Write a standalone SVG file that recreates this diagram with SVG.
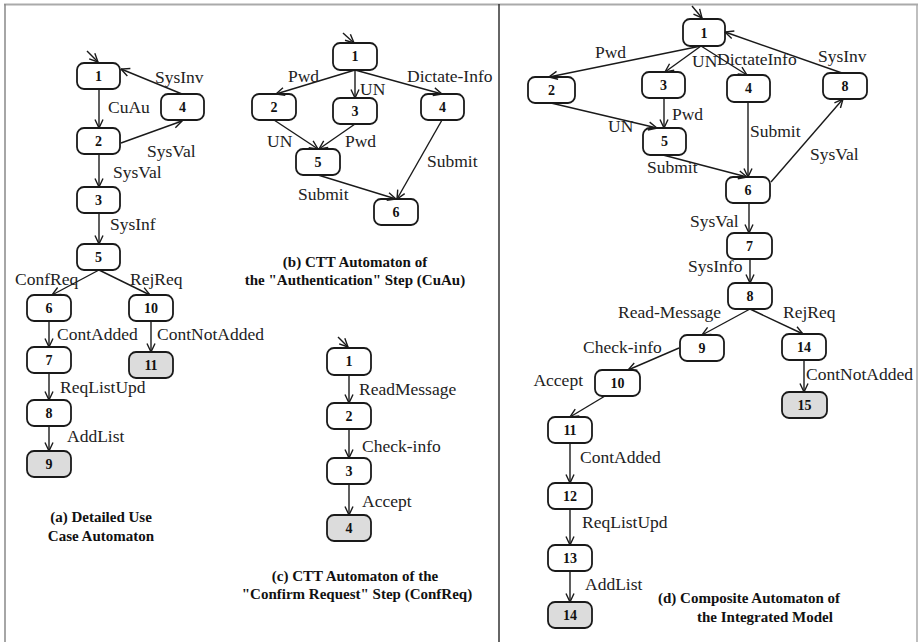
<svg xmlns="http://www.w3.org/2000/svg" width="920" height="642" viewBox="0 0 920 642">
<style>
.n rect{fill:#fff;stroke:#1a1a1a;stroke-width:1.8}
.n.f rect{fill:#dcdcdc}
.n text{font-family:"Liberation Serif",serif;font-weight:bold;font-size:14px;text-anchor:middle;fill:#111}
.lbl{font-family:"Liberation Serif",serif;font-size:17.5px;fill:#222}
.cap{font-family:"Liberation Serif",serif;font-weight:bold;font-size:15px;fill:#111}
.e path,.e line{stroke:#1a1a1a;stroke-width:1.4;fill:none;marker-end:url(#ah)}
</style>
<defs>
<marker id="ah" viewBox="0 0 10 10" refX="9.5" refY="5" markerWidth="10" markerHeight="10" markerUnits="userSpaceOnUse" orient="auto">
<path d="M1,1 L9.5,5 L1,9" fill="none" stroke="#1a1a1a" stroke-width="1.4"/>
</marker>
</defs>
<rect width="920" height="642" fill="#fff"/>
<g id="frame">
<line x1="4" y1="4.5" x2="918" y2="4.5" stroke="#aaa" stroke-width="2"/>
<line x1="5" y1="4" x2="5" y2="642" stroke="#888" stroke-width="1.5"/>
<line x1="917" y1="4" x2="917" y2="642" stroke="#aaa" stroke-width="1.5"/>
<line x1="499" y1="4" x2="499" y2="642" stroke="#333" stroke-width="1.5"/>
</g>

<!-- Panel (a) -->
<g id="a-n1" class="n"><rect x="77" y="63" width="43" height="26" rx="7"/><text x="98.5" y="81">1</text></g>
<g id="a-n4" class="n"><rect x="161" y="94" width="43" height="26" rx="7"/><text x="182.5" y="112">4</text></g>
<g id="a-n2" class="n"><rect x="77" y="128" width="43" height="26" rx="7"/><text x="98.5" y="146">2</text></g>
<g id="a-n3" class="n"><rect x="77" y="187" width="43" height="26" rx="7"/><text x="98.5" y="205">3</text></g>
<g id="a-n5" class="n"><rect x="77" y="244" width="43" height="26" rx="7"/><text x="98.5" y="262">5</text></g>
<g id="a-n6" class="n"><rect x="27" y="295" width="44" height="26" rx="7"/><text x="49" y="313">6</text></g>
<g id="a-n10" class="n"><rect x="129" y="295" width="44" height="26" rx="7"/><text x="151" y="313">10</text></g>
<g id="a-n7" class="n"><rect x="27" y="347" width="44" height="26" rx="7"/><text x="49" y="365">7</text></g>
<g id="a-n11" class="n f"><rect x="129" y="352" width="44" height="26" rx="7"/><text x="151" y="370">11</text></g>
<g id="a-n8" class="n"><rect x="27" y="400" width="44" height="26" rx="7"/><text x="49" y="418">8</text></g>
<g id="a-n9" class="n f"><rect x="27" y="451" width="44" height="26" rx="7"/><text x="49" y="469">9</text></g>

<!-- Panel (b) -->
<g id="b-n1" class="n"><rect x="333" y="43" width="44" height="27" rx="7"/><text x="355" y="61">1</text></g>
<g id="b-n2" class="n"><rect x="252" y="94" width="44" height="26" rx="7"/><text x="274" y="112">2</text></g>
<g id="b-n3" class="n"><rect x="333" y="98" width="44" height="26" rx="7"/><text x="355" y="116">3</text></g>
<g id="b-n4" class="n"><rect x="421" y="94" width="43" height="26" rx="7"/><text x="442.5" y="112">4</text></g>
<g id="b-n5" class="n"><rect x="296" y="149" width="44" height="26" rx="7"/><text x="318" y="167">5</text></g>
<g id="b-n6" class="n"><rect x="374" y="199" width="44" height="26" rx="7"/><text x="396" y="217">6</text></g>

<!-- Panel (c) -->
<g id="c-n1" class="n"><rect x="327" y="348" width="44" height="27" rx="7"/><text x="349" y="366">1</text></g>
<g id="c-n2" class="n"><rect x="327" y="403" width="44" height="26" rx="7"/><text x="349" y="421">2</text></g>
<g id="c-n3" class="n"><rect x="327" y="458" width="44" height="26" rx="7"/><text x="349" y="476">3</text></g>
<g id="c-n4" class="n f"><rect x="327" y="515" width="44" height="26" rx="7"/><text x="349" y="533">4</text></g>

<!-- Panel (d) -->
<g id="d-n1" class="n"><rect x="683" y="19" width="42" height="27" rx="7"/><text x="704" y="38">1</text></g>
<g id="d-n2" class="n"><rect x="528" y="77" width="47" height="26" rx="7"/><text x="551.5" y="95">2</text></g>
<g id="d-n3" class="n"><rect x="642" y="72" width="43" height="26" rx="7"/><text x="663.5" y="90">3</text></g>
<g id="d-n4" class="n"><rect x="727" y="75" width="43" height="27" rx="7"/><text x="748.5" y="93">4</text></g>
<g id="d-n8a" class="n"><rect x="823" y="73" width="44" height="26" rx="7"/><text x="845" y="91">8</text></g>
<g id="d-n5" class="n"><rect x="643" y="128" width="43" height="27" rx="7"/><text x="664.5" y="146">5</text></g>
<g id="d-n6" class="n"><rect x="726" y="177" width="44" height="26" rx="7"/><text x="748" y="195">6</text></g>
<g id="d-n7" class="n"><rect x="727" y="233" width="45" height="26" rx="7"/><text x="749.5" y="251">7</text></g>
<g id="d-n8" class="n"><rect x="728" y="283" width="44" height="26" rx="7"/><text x="750" y="301">8</text></g>
<g id="d-n9" class="n"><rect x="680" y="335" width="44" height="26" rx="7"/><text x="702" y="353">9</text></g>
<g id="d-n14a" class="n"><rect x="782" y="334" width="44" height="26" rx="7"/><text x="804" y="352">14</text></g>
<g id="d-n15" class="n f"><rect x="782" y="392" width="45" height="26" rx="7"/><text x="804.5" y="410">15</text></g>
<g id="d-n10" class="n"><rect x="595" y="370" width="45" height="26" rx="7"/><text x="617.5" y="388">10</text></g>
<g id="d-n11" class="n"><rect x="548" y="417" width="44" height="26" rx="7"/><text x="570" y="435">11</text></g>
<g id="d-n12" class="n"><rect x="548" y="483" width="44" height="26" rx="7"/><text x="570" y="501">12</text></g>
<g id="d-n13" class="n"><rect x="548" y="545" width="44" height="26" rx="7"/><text x="570" y="563">13</text></g>
<g id="d-n14b" class="n f"><rect x="548" y="602" width="44" height="26" rx="7"/><text x="570" y="620">14</text></g>

<g id="connectors" class="e">
<!-- (a) -->
<line x1="87" y1="51" x2="98" y2="62"/>
<line x1="99" y1="89" x2="99" y2="128"/>
<line x1="121" y1="143" x2="182" y2="121"/>
<line x1="182" y1="94" x2="121" y2="69"/>
<line x1="99" y1="154" x2="99" y2="187"/>
<line x1="99" y1="213" x2="99" y2="244"/>
<line x1="99" y1="270" x2="52" y2="295"/>
<line x1="99" y1="270" x2="150" y2="295"/>
<line x1="49" y1="321" x2="49" y2="347"/>
<line x1="151" y1="321" x2="151" y2="352"/>
<line x1="49" y1="373" x2="49" y2="400"/>
<line x1="49" y1="426" x2="49" y2="451"/>
<!-- (b) -->
<line x1="343" y1="33" x2="354" y2="43"/>
<line x1="355" y1="70" x2="276" y2="94"/>
<line x1="355" y1="70" x2="355" y2="98"/>
<line x1="355" y1="70" x2="442" y2="94"/>
<line x1="274" y1="120" x2="318" y2="149"/>
<line x1="355" y1="124" x2="319" y2="149"/>
<line x1="318" y1="175" x2="396" y2="199"/>
<line x1="442" y1="120" x2="397" y2="199"/>
<!-- (c) -->
<line x1="338" y1="337" x2="348" y2="347"/>
<line x1="349" y1="375" x2="349" y2="403"/>
<line x1="349" y1="429" x2="349" y2="458"/>
<line x1="349" y1="484" x2="349" y2="515"/>
<!-- (d) -->
<line x1="692" y1="6" x2="702" y2="18"/>
<line x1="701" y1="46" x2="549" y2="77"/>
<line x1="701" y1="46" x2="665" y2="72"/>
<line x1="701" y1="46" x2="747" y2="75"/>
<line x1="842" y1="73" x2="725" y2="32"/>
<line x1="551" y1="103" x2="657" y2="128"/>
<line x1="664" y1="98" x2="664" y2="128"/>
<line x1="748" y1="102" x2="748" y2="177"/>
<line x1="663" y1="155" x2="747" y2="177"/>
<line x1="771" y1="182" x2="843" y2="99"/>
<line x1="749" y1="203" x2="749" y2="233"/>
<line x1="750" y1="259" x2="750" y2="283"/>
<line x1="750" y1="309" x2="702" y2="335"/>
<line x1="750" y1="309" x2="803" y2="334"/>
<line x1="679" y1="348" x2="628" y2="370"/>
<line x1="605" y1="396" x2="570" y2="417"/>
<line x1="570" y1="443" x2="570" y2="483"/>
<line x1="570" y1="509" x2="570" y2="545"/>
<line x1="570" y1="571" x2="570" y2="602"/>
<line x1="804" y1="360" x2="804" y2="392"/>
</g>

<g id="labels">
<!-- (a) -->
<text class="lbl" x="155" y="83">SysInv</text>
<text class="lbl" x="108" y="113">CuAu</text>
<text class="lbl" x="147" y="157">SysVal</text>
<text class="lbl" x="113" y="178">SysVal</text>
<text class="lbl" x="110" y="230">SysInf</text>
<text class="lbl" x="15" y="285">ConfReq</text>
<text class="lbl" x="130" y="285">RejReq</text>
<text class="lbl" x="57" y="340">ContAdded</text>
<text class="lbl" x="157" y="340">ContNotAdded</text>
<text class="lbl" x="60" y="393">ReqListUpd</text>
<text class="lbl" x="67" y="442">AddList</text>
<!-- (b) -->
<text class="lbl" x="288" y="82">Pwd</text>
<text class="lbl" x="407" y="82">Dictate-Info</text>
<text class="lbl" x="360" y="95">UN</text>
<text class="lbl" x="267" y="147">UN</text>
<text class="lbl" x="345" y="147">Pwd</text>
<text class="lbl" x="427" y="167">Submit</text>
<text class="lbl" x="298" y="200">Submit</text>
<!-- (c) -->
<text class="lbl" x="359" y="395">ReadMessage</text>
<text class="lbl" x="362" y="452">Check-info</text>
<text class="lbl" x="362" y="507">Accept</text>
<!-- (d) -->
<text class="lbl" x="595" y="58">Pwd</text>
<text class="lbl" x="692" y="67">UN</text>
<text class="lbl" x="717" y="65">DictateInfo</text>
<text class="lbl" x="818" y="62">SysInv</text>
<text class="lbl" x="672" y="120">Pwd</text>
<text class="lbl" x="608" y="132">UN</text>
<text class="lbl" x="750" y="137">Submit</text>
<text class="lbl" x="647" y="173">Submit</text>
<text class="lbl" x="810" y="160">SysVal</text>
<text class="lbl" x="690" y="227">SysVal</text>
<text class="lbl" x="688" y="272">SysInfo</text>
<text class="lbl" x="618" y="318">Read-Message</text>
<text class="lbl" x="783" y="318">RejReq</text>
<text class="lbl" x="583" y="353">Check-info</text>
<text class="lbl" x="583" y="386" text-anchor="end">Accept</text>
<text class="lbl" x="806" y="380">ContNotAdded</text>
<text class="lbl" x="580" y="463">ContAdded</text>
<text class="lbl" x="582" y="528">ReqListUpd</text>
<text class="lbl" x="585" y="590">AddList</text>
</g>

<g id="captions">
<text class="cap" x="101" y="522" text-anchor="middle">(a) Detailed Use</text>
<text class="cap" x="101" y="541" text-anchor="middle">Case Automaton</text>
<text class="cap" x="355" y="267" text-anchor="middle">(b) CTT Automaton of</text>
<text class="cap" x="355" y="285" text-anchor="middle">the "Authentication" Step (CuAu)</text>
<text class="cap" x="355" y="581" text-anchor="middle">(c) CTT Automaton of the</text>
<text class="cap" x="357" y="599" text-anchor="middle">"Confirm Request" Step (ConfReq)</text>
<text class="cap" x="658" y="603">(d) Composite Automaton of</text>
<text class="cap" x="697" y="622">the Integrated Model</text>
</g>
</svg>
